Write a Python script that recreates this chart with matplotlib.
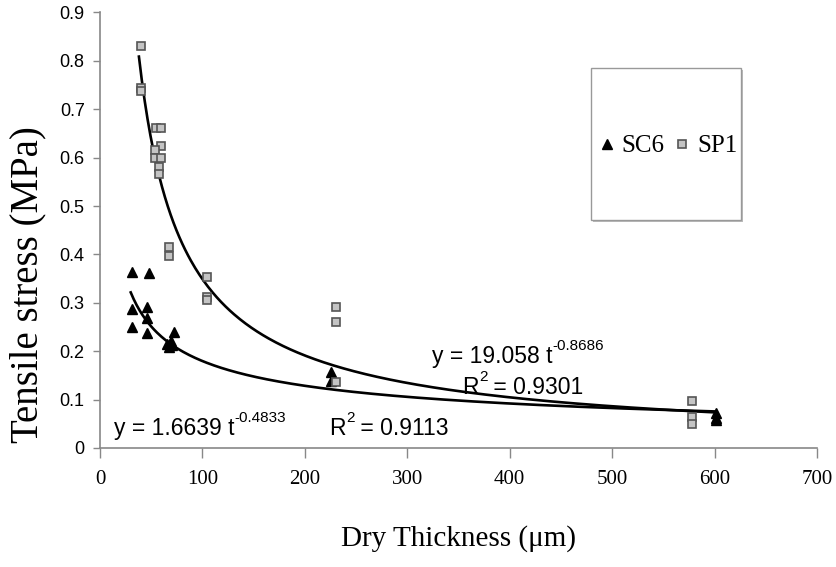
import numpy as np
import matplotlib
matplotlib.use("Agg")
import matplotlib.pyplot as plt
from matplotlib.patches import Rectangle
from matplotlib.lines import Line2D

# ---- data ----
sc6_x = [31, 48, 31, 46, 46, 31, 46, 72, 67, 65, 69, 70, 226, 226, 601, 601, 601]
sc6_y = [0.364, 0.362, 0.287, 0.291, 0.268, 0.251, 0.237, 0.240, 0.209, 0.215,
         0.222, 0.212, 0.158, 0.139, 0.072, 0.063, 0.058]

sp1_x = [40, 40, 40, 55, 60, 60, 54, 54, 60, 58, 58, 67, 67, 104, 104, 104,
         230, 230, 230, 578, 578, 578]
sp1_y = [0.830, 0.745, 0.737, 0.661, 0.661, 0.624, 0.616, 0.599, 0.599, 0.581,
         0.567, 0.415, 0.397, 0.353, 0.313, 0.306, 0.291, 0.261, 0.137, 0.097,
         0.065, 0.050]

# power-law trend lines printed on the chart: y = a * t^b  (a, b, t_start, t_end)
sc6_fit = (1.6639, -0.4833, 30, 600)
sp1_fit = (19.058, -0.8686, 38, 600)

x_ticks = [0, 100, 200, 300, 400, 500, 600, 700]
y_ticks = [0, 0.1, 0.2, 0.3, 0.4, 0.5, 0.6, 0.7, 0.8, 0.9]

fig = plt.figure(figsize=(8.37, 5.67), dpi=100)
ax = fig.add_axes([100/837, 1-448/567, 717/837, 435.5/567])

serif = "Liberation Serif"
sans = "Liberation Sans"

for a, b, x0, x1 in (sc6_fit, sp1_fit):
    t = np.linspace(x0, x1, 400)
    ax.plot(t, a * t**b, color="black", lw=1.9, zorder=2)

ax.plot(sc6_x, sc6_y, ls="none", marker="^", ms=7.5, mfc="black", mec="black", zorder=3)
ax.plot(sp1_x, sp1_y, ls="none", marker="s", ms=6, mfc="#c4c4c4", mec="#555555",
        mew=1.2, zorder=3)

ax.set_xlim(0, 700)
ax.set_ylim(0, 0.9)
ax.set_xticks(x_ticks)
ax.set_yticks(y_ticks)
ax.set_xticklabels([str(v) for v in x_ticks], fontfamily=serif, fontsize=15)
ax.set_yticklabels([f"{v:g}" for v in y_ticks], fontfamily=sans, fontsize=13)
ax.tick_params(axis="x", direction="out", length=7, width=1, color="#888888", pad=9)
ax.tick_params(axis="y", direction="out", length=5, width=1, color="#888888", pad=6)
for s in ("top", "right"):
    ax.spines[s].set_visible(False)
for s in ("left", "bottom"):
    ax.spines[s].set_color("#888888")
    ax.spines[s].set_linewidth(1.2)

ax.set_xlabel("Dry Thickness (\u03bcm)", fontfamily=serif, fontsize=21, labelpad=26)
ax.set_ylabel("Tensile stress (MPa)", fontfamily=serif, fontsize=28)
ax.yaxis.set_label_coords(-0.075, 0.375)

# equations
def eq(x, y, main, sup):
    t = ax.text(x, y, main, fontfamily=sans, fontsize=16.5, ha="left", va="center")
    ax.annotate(sup, xy=(1.0, 0.62), xycoords=t, fontfamily=sans, fontsize=11,
                ha="left", va="bottom")
    return t

def rsq(x, y, value):
    r = ax.text(x, y, "R", fontfamily=sans, fontsize=16.5, ha="left", va="center")
    ax.annotate("2", xy=(1.0, 0.62), xycoords=r, fontfamily=sans, fontsize=11,
                ha="left", va="bottom")
    ax.annotate(" = " + value, xy=(1.0, 0.5), xycoords=r, fontfamily=sans,
                fontsize=16.5, ha="left", va="center", xytext=(6, 0),
                textcoords="offset points")

eq(324, 0.19, "y = 19.058 t", "-0.8686")
rsq(354, 0.126, "0.9301")
eq(14, 0.041, "y = 1.6639 t", "-0.4833")
rsq(224, 0.041, "0.9113")

# legend box
x0, y0, w, h = 591/837, 1-220/567, 150/837, 152/567
fig.patches.append(Rectangle((x0 + 2/837, y0 - 2/567), w, h, transform=fig.transFigure,
                             facecolor="#bbbbbb", edgecolor="none", zorder=0))
fig.patches.append(Rectangle((x0, y0), w, h, transform=fig.transFigure,
                             facecolor="white", edgecolor="#999999", lw=1, zorder=1))
handles = [Line2D([], [], ls="none", marker="^", ms=7, mfc="black", mec="black"),
           Line2D([], [], ls="none", marker="s", ms=5.5, mfc="#c4c4c4", mec="#555555", mew=1.2)]
leg = fig.legend(handles, ["SC6", "SP1"], loc="center",
                 bbox_to_anchor=(669/837, 1-146/567),
                 ncol=2, frameon=False, handlelength=0.5, handletextpad=0.35,
                 columnspacing=0.45, borderpad=0, borderaxespad=0,
                 prop={"family": serif, "size": 18})

fig.savefig("out.png", dpi=100)
